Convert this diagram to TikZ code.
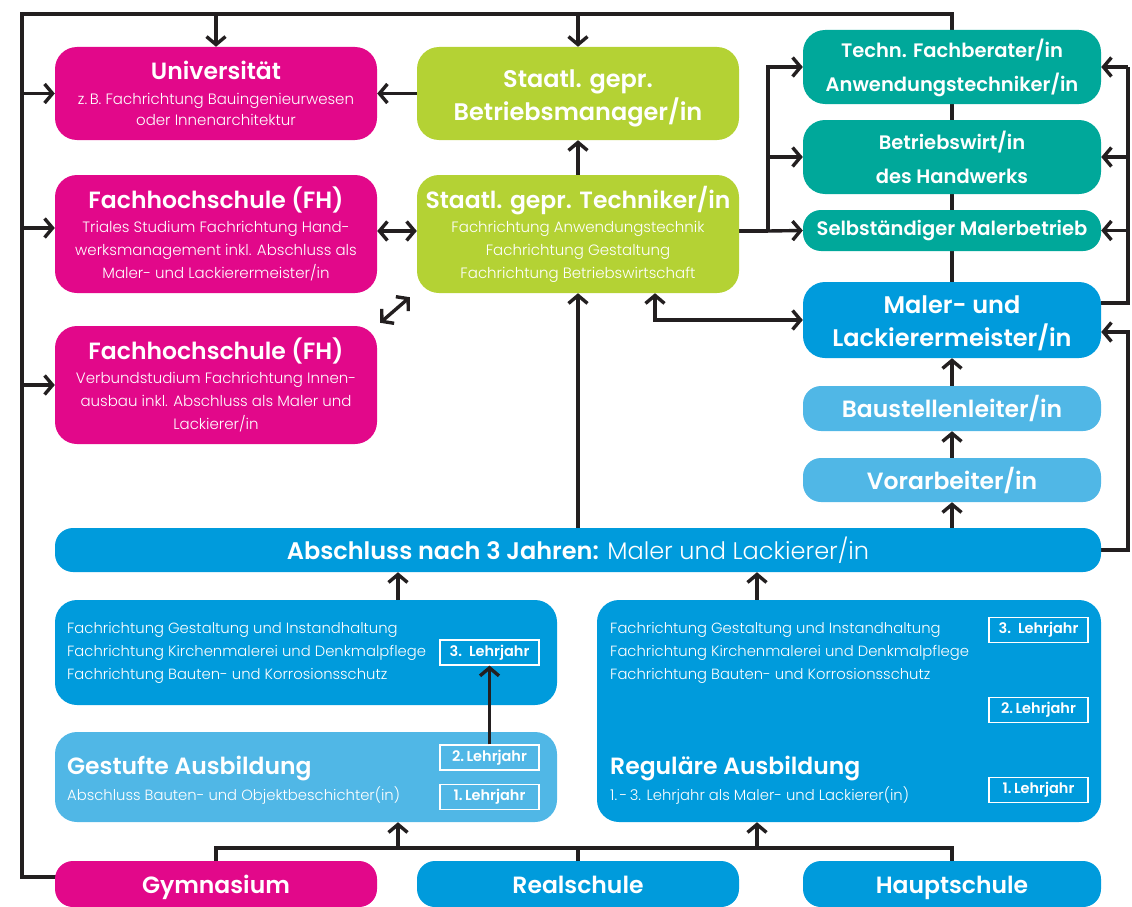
\documentclass[tikz,border=0pt]{standalone}
\usepackage{fontspec}
\setmainfont{Poppins}[BoldFont={Poppins SemiBold}]
\newfontfamily\lightf{Poppins Light}
\usetikzlibrary{arrows.meta,backgrounds}
\definecolor{cMag}{RGB}{226,8,138}
\definecolor{cGreen}{RGB}{180,210,52}
\definecolor{cTeal}{RGB}{0,168,154}
\definecolor{cBlue}{RGB}{0,155,220}
\definecolor{cLight}{RGB}{80,183,230}
\definecolor{cLine}{RGB}{35,31,32}
\newcommand\mytitle{\normalfont\fontsize{23.5}{23.5}\selectfont\bfseries}
\begin{document}
\begin{tikzpicture}[x=1pt,y=-1pt,
  box/.style={rounded corners=22pt, fill=#1, draw=none, text=white, align=center, inner sep=0pt},
  sub/.style={font=\lightf\fontsize{15}{#1}\selectfont},
  wide/.style={minimum width=322pt},
  nar/.style={minimum width=298pt},
  big/.style={font=\fontsize{24}{33}\selectfont\bfseries},
  mid/.style={font=\fontsize{19.5}{34}\selectfont\bfseries},
  one/.style={font=\fontsize{23.5}{26}\selectfont\bfseries, text height=18pt, text depth=0pt},
  lj/.style={draw=white, line width=1.2pt, text=white, minimum width=99pt, minimum height=25pt, inner sep=0pt, font=\fontsize{14.5}{16}\selectfont\bfseries},
  conn/.style={draw=cLine, line width=3.4pt},
  arr/.style={conn, -{Straight Barb[length=8pt,width=19pt]}},
  darr/.style={conn, {Straight Barb[length=8pt,width=19pt]}-{Straight Barb[length=8pt,width=19pt]}},
]
\useasboundingbox (0,0) rectangle (1132,907);
% left column
\node[box=cMag, wide, minimum height=93pt, sub=21] (uni) at (216,93.5)
  {{\mytitle Universität}\\[4pt] z.\,B. Fachrichtung Bauingenieurwesen\\ oder Innenarchitektur};
\node[box=cMag, wide, minimum height=118pt, sub=23] (fh1) at (216,234)
  {{\mytitle Fachhochschule (FH)}\\[1pt] Triales Studium Fachrichtung Hand-\\ werksmanagement inkl. Abschluss als\\ Maler- und Lackierermeister/in};
\node[box=cMag, wide, minimum height=118pt, sub=23] (fh2) at (216,385)
  {{\mytitle Fachhochschule (FH)}\\[1pt] Verbundstudium Fachrichtung Innen-\\ ausbau inkl. Abschluss als Maler und\\ Lackierer/in};
% middle column
\node[box=cGreen, wide, minimum height=93pt, big] (bm) at (578,93.5)
  {\rule{0pt}{28pt}Staatl. gepr.\\ Betriebsmanager/in};
\node[box=cGreen, wide, minimum height=118pt, sub=23] (tech) at (578,234)
  {{\mytitle Staatl. gepr. Techniker/in}\\[1pt] Fachrichtung Anwendungstechnik\\ Fachrichtung Gestaltung\\ Fachrichtung Betriebswirtschaft};
% right column
\node[box=cTeal, nar, minimum height=74pt, mid] (fb) at (952,67)
  {\rule{0pt}{20.5pt}Techn. Fachberater/in\\ Anwendungstechniker/in};
\node[box=cTeal, nar, minimum height=74pt, mid] (bw) at (952,157)
  {Betriebswirt/in\\ des Handwerks};
\node[box=cTeal, nar, minimum height=41pt, rounded corners=18pt, mid] (sm) at (952,230.5)
  {Selbständiger Malerbetrieb};
\node[box=cBlue, nar, minimum height=76pt, big] (mm) at (952,320)
  {\rule{0pt}{24pt}Maler- und\\ Lackierermeister/in};
\node[box=cLight, nar, minimum height=45pt, rounded corners=18pt, one] (bl) at (952,408.5)
  {Baustellenleiter/in};
\node[box=cLight, nar, minimum height=44pt, rounded corners=18pt, one] (va) at (952,480)
  {Vorarbeiter/in};
% Abschluss bar
\node[box=cBlue, minimum width=1046pt, minimum height=44pt, rounded corners=18pt, font=\fontsize{24}{26}\selectfont, text height=18pt, text depth=0pt] (ab) at (578,550)
  {\textbf{Abschluss nach 3 Jahren:} {\lightf Maler und Lackierer/in}};
% training boxes
\node[box=cBlue, minimum width=502pt, minimum height=105pt] (gs1) at (306,652.5) {};
\node[box=cLight, minimum width=502pt, minimum height=90pt] (gs2) at (306,777) {};
\node[box=cBlue, minimum width=504pt, minimum height=222pt] (reg) at (849,711) {};
\node[anchor=west, align=left, text=white, inner sep=0pt, sub=23, font=\lightf\fontsize{14.8}{23}\selectfont] (gs1t) at (67,653)
  {Fachrichtung Gestaltung und Instandhaltung\\ Fachrichtung Kirchenmalerei und Denkmalpflege\\ Fachrichtung Bauten- und Korrosionsschutz};
\node[anchor=west, align=left, text=white, inner sep=0pt, font=\lightf\fontsize{14.8}{23}\selectfont] (regt) at (610,653)
  {Fachrichtung Gestaltung und Instandhaltung\\ Fachrichtung Kirchenmalerei und Denkmalpflege\\ Fachrichtung Bauten- und Korrosionsschutz};
\node[anchor=west, align=left, text=white, inner sep=0pt, font=\lightf\fontsize{14.8}{25}\selectfont] (gs2t) at (67,780)
  {{\mytitle Gestufte Ausbildung}\\[1pt] Abschluss Bauten- und Objektbeschichter(in)};
\node[anchor=west, align=left, text=white, inner sep=0pt, font=\lightf\fontsize{14.8}{25}\selectfont] (regt2) at (610,780)
  {{\mytitle Reguläre Ausbildung}\\[1pt] 1.\,-\,3. Lehrjahr als Maler- und Lackierer(in)};
\node[lj] (l3a) at (489.5,652.5) {3.\ \ Lehrjahr};
\node[lj] (l2a) at (489.5,757.5) {2.\,Lehrjahr};
\node[lj] (l1a) at (489.5,797) {1.\,Lehrjahr};
\node[lj] (l3b) at (1038.5,630) {3.\ \ Lehrjahr};
\node[lj] (l2b) at (1038.5,710) {2.\,Lehrjahr};
\node[lj] (l1b) at (1038.5,790) {1.\,Lehrjahr};
% schools
\node[box=cMag, wide, minimum height=46pt, rounded corners=18pt, one] (gym) at (216,884) {Gymnasium};
\node[box=cBlue, wide, minimum height=46pt, rounded corners=18pt, one] (real) at (578,884) {Realschule};
\node[box=cBlue, nar, minimum height=46pt, rounded corners=18pt, one] (haupt) at (952,884) {Hauptschule};
% helper coordinates
\coordinate (tl) at (22,14);
\coordinate (bl0) at (22,877);
\coordinate (jr) at (768,231);
\coordinate (rt) at (1128,67);
\coordinate (rb) at (1128,550);
\coordinate (bus) at (0,848);
% connectors
\draw[arr] (l2a.north) -- (l3a.south);
\begin{pgfonlayer}{background}
\draw[conn] (mm.north) -- (fb.north |- tl) -- (tl) -- (bl0) -- ([xshift=10pt]gym.west |- bl0);
\draw[arr] (uni.north |- tl) -- (uni.north);
\draw[arr] (bm.north |- tl) -- (bm.north);
\draw[arr] (tl |- uni.west) -- (uni.west);
\draw[arr] (tl |- 0,228) -- (fh1.west |- 0,228);
\draw[arr] (tl |- fh2.west) -- (fh2.west);
\draw[arr] (bm.west) -- (uni.east);
\draw[darr] (fh1.east |- 0,231) -- (tech.west |- 0,231);
\draw[darr] ([shift={(3pt,3pt)}]fh2.north east) -- ([shift={(-7pt,-4pt)}]tech.south west);
\draw[arr] (tech.north) -- (bm.south);
\draw[conn] (tech.east |- jr) -- (jr);
\draw[arr] (jr) -- (sm.west);
\draw[arr] (jr) |- (bw.west);
\draw[arr] (jr) |- (fb.west);
\draw[conn] (mm.east |- 0,303) -| (rt);
\draw[arr] (rt) -- (fb.east);
\draw[arr] (rt |- bw.east) -- (bw.east);
\draw[arr] (rt |- sm.east) -- (sm.east);
\draw[arr] (ab.east) -- (rb) -- (rb |- 0,332) -- (mm.east |- 0,332);
\draw[darr] ([xshift=77pt]tech.south) |- (mm.west);
\draw[arr] (ab.north) -- (tech.south);
\draw[arr] (va.south |- ab.north) -- (va.south);
\draw[arr] (va.north) -- (bl.south);
\draw[arr] (bl.north) -- (mm.south);
\draw[arr] ([xshift=92pt]gs1.north) -- ([xshift=92pt]gs1.north |- ab.south);
\draw[arr] ([xshift=-92pt]reg.north) -- ([xshift=-92pt]reg.north |- ab.south);
\draw[conn] (gym.north) -- (gym.north |- bus) -- (haupt.north |- bus) -- (haupt.north);
\draw[conn] (real.north |- bus) -- (real.north);
\draw[arr] ([xshift=92pt]gs2.south |- bus) -- ([xshift=92pt]gs2.south);
\draw[arr] ([xshift=-92pt]reg.south |- bus) -- ([xshift=-92pt]reg.south);
\end{pgfonlayer}
\end{tikzpicture}
\end{document}
